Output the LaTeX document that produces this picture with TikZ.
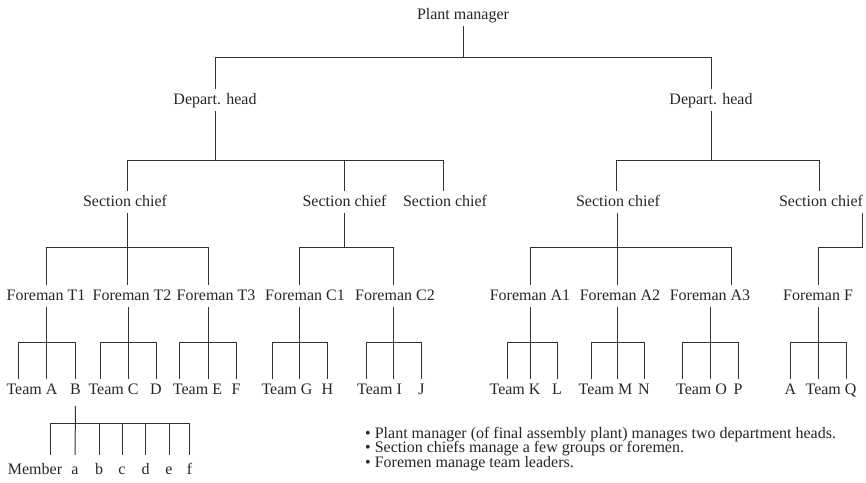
\documentclass[tikz,border=0pt]{standalone}
\usepackage{fontspec}
\setmainfont{Liberation Serif}
\usetikzlibrary{calc}
\begin{document}
\begin{tikzpicture}[x=1pt,y=-1pt,
  lbl/.style={font=\fontsize{16}{18}\selectfont, text=black!85,
    inner xsep=0pt, inner ysep=4pt, text height=11pt, text depth=3pt, anchor=center},
  memb/.style={lbl, inner ysep=8pt},
  link/.style={draw=black!80, line width=1pt},
  note/.style={font=\fontsize{16}{18}\selectfont, text=black!85, inner sep=0pt, anchor=base west}]
\useasboundingbox (0,0) rectangle (866,482);

% ---- management levels
\node[lbl] (pm)  at (463,15)   {Plant manager};
\node[lbl] (dh1) at (215,100)  {Depart. head};
\node[lbl] (dh2) at (711,100)  {Depart. head};
\node[lbl] (sc1) at (125,202)  {Section chief};
\node[lbl] (sc2) at (344.5,202){Section chief};
\node[lbl] (sc3) at (445,202)  {Section chief};
\node[lbl] (sc4) at (618,202)  {Section chief};
\node[lbl] (sc5) at (821,202)  {Section chief};

% ---- foremen
\node[lbl] (ft1) at (46,296)  {Foreman T1};
\node[lbl] (ft2) at (132,296) {Foreman T2};
\node[lbl] (ft3) at (216,296) {Foreman T3};
\node[lbl] (fc1) at (305,296) {Foreman C1};
\node[lbl] (fc2) at (395,296) {Foreman C2};
\node[lbl] (fa1) at (530,296) {Foreman A1};
\node[lbl] (fa2) at (620,296) {Foreman A2};
\node[lbl] (fa3) at (710,296) {Foreman A3};
\node[lbl] (ff)  at (818,296) {Foreman F};

% ---- teams
\node[lbl] (ta) at (32,390)    {Team A};
\node[lbl] (tb) at (75.5,390)  {B};
\node[lbl] (tc) at (113.5,390) {Team C};
\node[lbl] (td) at (156,390)   {D};
\node[lbl] (te) at (197.5,390) {Team E};
\node[lbl] (tf) at (236,390)   {F};
\node[lbl] (tg) at (287,390)   {Team G};
\node[lbl] (th) at (327.5,390) {H};
\node[lbl] (ti) at (379.5,390) {Team I};
\node[lbl] (tj) at (421.5,390) {J};
\node[lbl] (tk) at (515,390)   {Team K};
\node[lbl] (tl) at (557,390)   {L};
\node[lbl] (tm) at (605.5,390) {Team M};
\node[lbl] (tn) at (644,390)   {N};
\node[lbl] (to) at (701.5,390) {Team O};
\node[lbl] (tp) at (738,390)   {P};
\node[lbl] (tqa) at (790.5,390){A};
\node[lbl] (tq) at (831,390)   {Team Q};

% ---- members of team B
\node[memb] (mem) at (35,470)  {Member};
\node[memb] (ma) at (75,470)   {a};
\node[memb] (mb) at (99,470)   {b};
\node[memb] (mc) at (122,470)  {c};
\node[memb] (md) at (145.5,470){d};
\node[memb] (me) at (169,470)  {e};
\node[memb] (mf) at (189.5,470){f};

% ---- notes
\node[note] (n1) at (365,438)   {• Plant manager (of final assembly plant) manages two department heads.};
\node[note] (n2) at (365,452.5) {• Section chiefs manage a few groups or foremen.};
\node[note] (n3) at (365,467)   {• Foremen manage team leaders.};

% ---- plant manager to department heads
\draw[link] (pm.south) -- ++(0,31) coordinate (j0);
\draw[link] (dh1.north) |- (j0) -| (dh2.north);

% ---- department heads to section chiefs
\draw[link] (dh1.south) -- ++(0,49) coordinate (j1);
\draw[link] ($(sc1.north)+(2,0)$) |- (j1) -| ($(sc3.north)+(-2,0)$);
\draw[link] (sc2.north) -- (sc2.north |- j1);
\draw[link] (dh2.south) -- ++(0,49) coordinate (j2);
\draw[link] ($(sc4.north)+(-2,0)$) |- (j2) -| ($(sc5.north)+(-2,0)$);

% ---- section chiefs to foremen
\draw[link] ($(sc1.south)+(2,0)$) -- ++(0,34) coordinate (j3);
\draw[link] (ft1.north) |- (j3) -| ($(ft3.north)+(-8,0)$);
\draw[link] (j3) -- (j3 |- ft2.north);
\draw[link] (sc2.south) -- ++(0,34) coordinate (j4);
\draw[link] ($(fc1.north)+(-6,0)$) |- (j4) -| ($(fc2.north)+(-2,0)$);
\draw[link] ($(sc4.south)+(-1,0)$) -- ++(0,34) coordinate (j5);
\draw[link] (fa1.north) |- (j5) -| ($(fa3.north)+(21,0)$);
\draw[link] (j5) -- (j5 |- fa2.north);
\draw[link] ($(sc5.south east)+(-1,0)$) -- ++(0,34) -| (ff.north);

% ---- foremen to teams
\draw[link] (ft1.south) -- ++(0,35) coordinate (k1);
\draw[link] ($(ta.north)+(-14,0)$) |- (k1) -| (tb.north);
\draw[link] (k1) -- (k1 |- ta.north);

\draw[link] ($(ft2.south)+(-4,0)$) -- ++(0,35) coordinate (k2);
\draw[link] ($(tc.north)+(-13.5,0)$) |- (k2) -| (td.north);
\draw[link] (k2) -- (k2 |- tc.north);

\draw[link] ($(ft3.south)+(-8,0)$) -- ++(0,35) coordinate (k3);
\draw[link] ($(te.north)+(-18.5,0)$) |- (k3) -| (tf.north);
\draw[link] (k3) -- (k3 |- te.north);

\draw[link] ($(fc1.south)+(-6,0)$) -- ++(0,35) coordinate (k4);
\draw[link] ($(tg.north)+(-15,0)$) |- (k4) -| (th.north);
\draw[link] (k4) -- (k4 |- tg.north);

\draw[link] ($(fc2.south)+(-2,0)$) -- ++(0,35) coordinate (k5);
\draw[link] ($(ti.north)+(-13.5,0)$) |- (k5) -| (tj.north);
\draw[link] (k5) -- (k5 |- ti.north);

\draw[link] (fa1.south) -- ++(0,35) coordinate (k6);
\draw[link] ($(tk.north)+(-8,0)$) |- (k6) -| (tl.north);
\draw[link] (k6) -- (k6 |- tk.north);

\draw[link] ($(fa2.south)+(-3,0)$) -- ++(0,35) coordinate (k7);
\draw[link] ($(tm.north)+(-14.5,0)$) |- (k7) -| (tn.north);
\draw[link] (k7) -- (k7 |- tm.north);

\draw[link] (fa3.south) -- ++(0,35) coordinate (k8);
\draw[link] ($(to.north)+(-19.5,0)$) |- (k8) -| (tp.north);
\draw[link] (k8) -- (k8 |- to.north);

\draw[link] (ff.south) -- ++(0,35) coordinate (k9);
\draw[link] (tqa.north) |- (k9) -| ($(tq.north)+(15,0)$);
\draw[link] (k9) -- (k9 |- tq.north);

% ---- team B to its members
\draw[link] ($(tb.south)+(0,5)$) -- (ma.north);
\coordinate (jm) at ($(tb.south)+(0,22)$);
\draw[link] ($(mem.north)+(15,0)$) |- (jm) -| (mf.north);
\draw[link] (mb.north) -- (mb.north |- jm);
\draw[link] (mc.north) -- (mc.north |- jm);
\draw[link] (md.north) -- (md.north |- jm);
\draw[link] (me.north) -- (me.north |- jm);
\end{tikzpicture}
\end{document}
